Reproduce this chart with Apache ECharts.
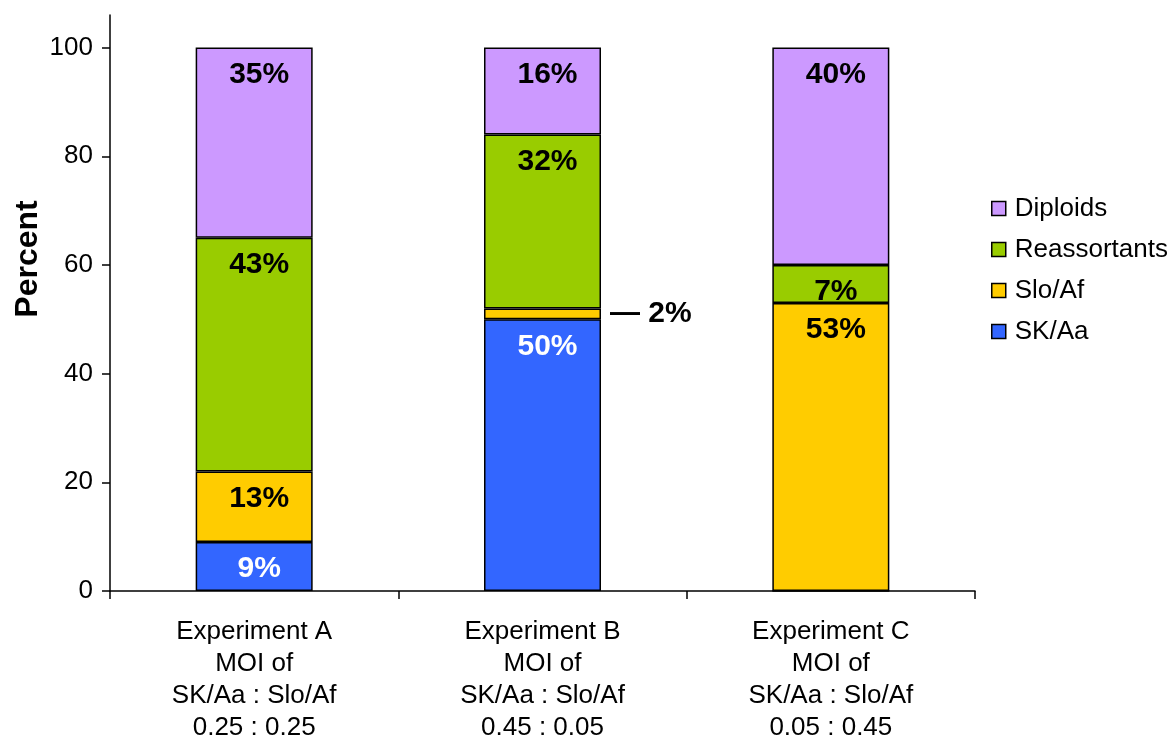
<!DOCTYPE html>
<html>
<head>
<meta charset="utf-8">
<script src="https://cdn.jsdelivr.net/npm/echarts@6/dist/echarts.min.js"></script>
<style>
    html, body { margin: 0; padding: 0; background: #fff; }
    #chart { width: 1173px; height: 737px; }
</style>
</head>
<body>
<div id="chart"></div>
<script>
// categories (x axis)
var categories = [
    'Experiment A\nMOI of\nSK/Aa : Slo/Af\n0.25 : 0.25',
    'Experiment B\nMOI of\nSK/Aa : Slo/Af\n0.45 : 0.05',
    'Experiment C\nMOI of\nSK/Aa : Slo/Af\n0.05 : 0.45'
];
// percent per series, stacked bottom to top
var skAa = [9, 50, 0];
var sloAf = [13, 2, 53];
var reassortants = [43, 32, 7];
var diploids = [35, 16, 40];

var seriesDefs = [
    {name: 'SK/Aa', data: skAa, color: '#3366FF', text: '#fff'},
    {name: 'Slo/Af', data: sloAf, color: '#FFCC00', text: '#000'},
    {name: 'Reassortants', data: reassortants, color: '#99CC00', text: '#000'},
    {name: 'Diploids', data: diploids, color: '#CC99FF', text: '#000'}
];

var font = 'Liberation Sans, Arial, sans-serif';

var series = seriesDefs.map(function (s) {
    return {
        name: s.name,
        type: 'bar',
        stack: 'total',
        barWidth: 117,
        itemStyle: {color: s.color, borderColor: '#000', borderWidth: 1.5},
        label: {
            show: true,
            position: 'insideTop',
            distance: 12,
            offset: [5, 0],
            color: s.text,
            fontSize: 30,
            fontWeight: 'bold',
            fontFamily: font,
            formatter: function (p) { return p.value ? p.value + '%' : ''; }
        },
        data: s.data.map(function (v) {
            // segment too thin for an inside label: put it to the right
            if (v > 0 && v < 5) {
                return {
                    value: v,
                    label: {position: 'right', distance: 9, offset: [0, 0], formatter: '— ' + v + '%'}
                };
            }
            return v;
        })
    };
});

var chart = echarts.init(document.getElementById('chart'));
chart.setOption({
    animation: false,
    backgroundColor: '#fff',
    grid: {left: 110, right: 198, top: 15, bottom: 146, containLabel: false, outerBoundsMode: 'none'},
    legend: {
        orient: 'vertical',
        left: 986,
        top: 190,
        itemWidth: 14,
        itemHeight: 14,
        itemGap: 14,
        icon: 'rect',
        data: ['Diploids', 'Reassortants', 'Slo/Af', 'SK/Aa'],
        itemStyle: {borderColor: '#000', borderWidth: 1.5},
        textStyle: {fontSize: 26, lineHeight: 27, fontFamily: font, color: '#000', padding: [0, 0, 0, 4]}
    },
    xAxis: {
        type: 'category',
        data: categories,
        axisLine: {lineStyle: {color: '#000', width: 1.5}},
        axisTick: {show: true, length: 8, lineStyle: {color: '#000', width: 1.5}},
        axisLabel: {
            interval: 0,
            margin: 25,
            fontSize: 26,
            lineHeight: 32,
            fontFamily: font,
            color: '#000'
        }
    },
    yAxis: {
        type: 'value',
        min: 0,
        max: 106,
        interval: 20,
        splitLine: {show: false},
        axisLine: {show: true, lineStyle: {color: '#000', width: 1.5}},
        axisTick: {show: true, length: 8, lineStyle: {color: '#000', width: 1.5}},
        axisLabel: {
            showMaxLabel: false,
            margin: 17,
            fontSize: 26,
            fontFamily: font,
            color: '#000'
        }
    },
    graphic: [{
        type: 'text',
        x: 28,
        y: 259,
        rotation: Math.PI / 2,
        style: {
            text: 'Percent',
            fontSize: 32,
            fontWeight: 'bold',
            fontFamily: font,
            fill: '#000',
            align: 'center',
            verticalAlign: 'middle'
        }
    }],
    series: series
});
</script>
</body>
</html>
